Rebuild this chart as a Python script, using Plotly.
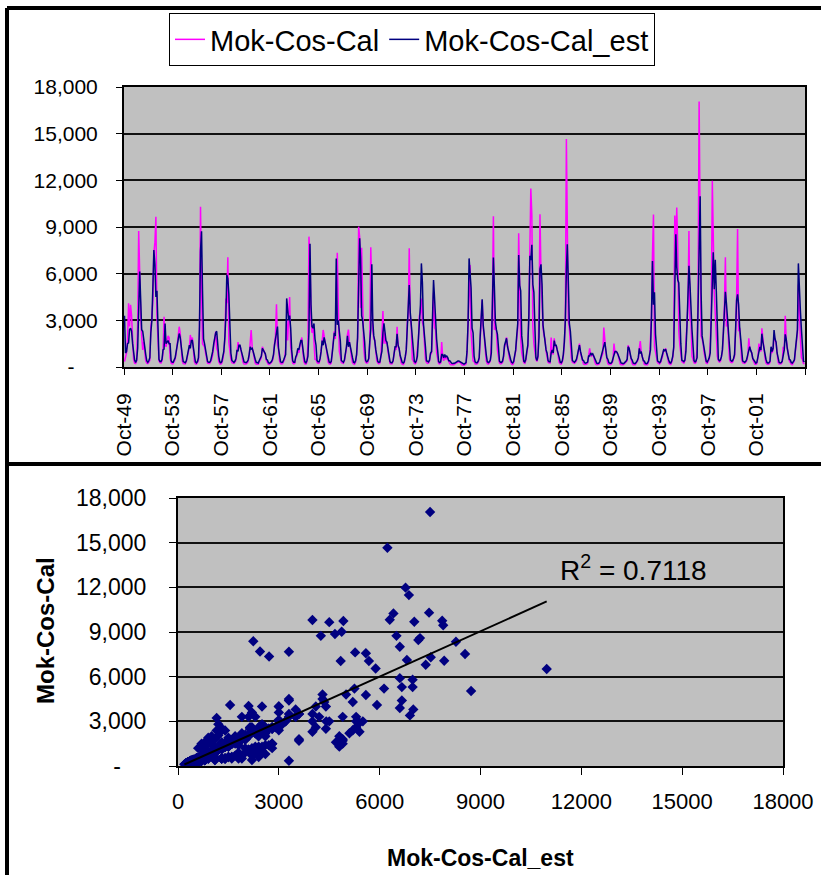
import numpy as np
import pandas as pd
import plotly.graph_objects as go

# Monthly flows by water year (Oct..Sep), WY1950 - WY2005
water_years = list(range(1950, 2006))

mok_cos_cal = [
    [350, 600, 900, 1800, 4100, 2600, 4000, 3300, 1700, 500, 250, 220],        # 1950
    [400, 2800, 8740, 5200, 3300, 2000, 1100, 1600, 900, 400, 250, 220],       # 1951
    [300, 450, 2600, 3100, 4300, 7300, 8010, 9660, 3300, 1100, 400, 280],      # 1952
    [250, 400, 900, 3230, 1500, 1300, 1700, 2000, 1900, 600, 250, 200],        # 1953
    [220, 400, 500, 900, 1400, 1800, 2590, 2200, 1200, 400, 220, 200],         # 1954
    [200, 350, 700, 1000, 1300, 2060, 1600, 1900, 1100, 350, 200, 180],        # 1955
    [280, 450, 2000, 10300, 5040, 1500, 1400, 1300, 900, 400, 250, 220],       # 1956
    [220, 350, 500, 800, 1300, 1800, 2270, 1200, 1000, 350, 200, 180],         # 1957
    [250, 500, 900, 1800, 4400, 4100, 7050, 1600, 1000, 500, 280, 250],        # 1958
    [230, 300, 450, 900, 1600, 1300, 1400, 1100, 600, 300, 200, 180],          # 1959
    [200, 250, 350, 700, 1600, 2380, 1300, 1000, 500, 250, 180, 170],          # 1960
    [180, 350, 500, 600, 1300, 1100, 1000, 800, 400, 220, 170, 160],           # 1961
    [200, 280, 400, 700, 1500, 2000, 4030, 1400, 1200, 400, 220, 190],         # 1962
    [220, 400, 500, 1200, 3000, 1700, 3600, 4500, 1300, 600, 250, 200],        # 1963
    [230, 600, 700, 1100, 900, 1300, 1700, 1900, 1000, 350, 200, 180],         # 1964
    [300, 1500, 8380, 7070, 3000, 2200, 2700, 1500, 500, 500, 280, 230],       # 1965
    [250, 500, 900, 1600, 2380, 1800, 1600, 1300, 700, 300, 200, 180],         # 1966
    [250, 900, 1500, 2300, 1800, 5800, 7350, 4000, 1000, 700, 300, 250],       # 1967
    [230, 400, 700, 1200, 2100, 2400, 1500, 1200, 600, 280, 200, 170],         # 1968
    [300, 800, 1800, 9020, 8350, 3800, 7670, 4000, 1300, 600, 300, 250],       # 1969
    [280, 500, 1500, 7690, 3900, 2400, 1800, 1700, 1000, 400, 250, 200],       # 1970
    [250, 700, 2000, 3600, 1500, 2200, 1500, 1600, 1000, 400, 220, 190],       # 1971
    [200, 350, 900, 1300, 1100, 2590, 1300, 1200, 700, 280, 180, 160],         # 1972
    [250, 600, 1000, 2800, 3500, 7630, 3300, 2600, 500, 400, 230, 200],        # 1973
    [300, 1200, 1800, 3300, 3500, 4400, 2900, 2600, 1200, 500, 280, 230],      # 1974
    [250, 400, 800, 900, 2800, 4770, 2500, 2400, 900, 400, 230, 200],          # 1975
    [250, 1600, 600, 400, 700, 500, 600, 500, 300, 200, 150, 140],             # 1976
    [130, 150, 200, 250, 300, 350, 350, 300, 200, 140, 120, 110],              # 1977
    [150, 200, 900, 2600, 5300, 6550, 2200, 1000, 400, 350, 200, 180],         # 1978
    [200, 300, 500, 1800, 2800, 4300, 2500, 2000, 1100, 400, 220, 190],        # 1979
    [250, 400, 1500, 3800, 9690, 2400, 2600, 2300, 1100, 500, 250, 200],       # 1980
    [220, 300, 600, 1300, 1500, 1900, 1200, 900, 500, 250, 180, 160],          # 1981
    [250, 700, 1000, 1800, 2500, 8590, 5200, 1800, 900, 500, 280, 230],        # 1982
    [400, 900, 1300, 3500, 8460, 11480, 9760, 2600, 1500, 800, 500, 350],      # 1983
    [600, 3300, 9820, 5900, 3300, 2500, 2000, 1800, 1000, 500, 300, 250],      # 1984
    [250, 1900, 1000, 800, 1850, 1300, 1400, 1100, 600, 280, 200, 180],        # 1985
    [300, 700, 1500, 3000, 14660, 9450, 3000, 2500, 1300, 600, 300, 250],      # 1986
    [230, 300, 400, 700, 1300, 1500, 900, 600, 350, 200, 160, 150],            # 1987
    [180, 250, 600, 1200, 800, 700, 800, 700, 350, 180, 150, 140],             # 1988
    [170, 300, 500, 700, 900, 2530, 1600, 1000, 500, 220, 160, 150],           # 1989
    [160, 250, 400, 1500, 900, 1000, 900, 800, 500, 200, 150, 140],            # 1990
    [140, 180, 250, 300, 400, 1400, 1200, 800, 500, 220, 150, 140],            # 1991
    [150, 250, 350, 500, 1200, 1670, 900, 600, 300, 170, 140, 130],            # 1992
    [150, 300, 600, 1800, 3300, 7120, 9810, 1300, 1000, 500, 280, 240],        # 1993
    [200, 300, 500, 700, 1100, 1000, 1200, 900, 500, 250, 180, 160],           # 1994
    [300, 600, 1200, 9740, 7520, 10250, 7570, 2300, 1400, 600, 350, 300],      # 1995
    [250, 400, 1500, 2500, 4000, 8740, 3000, 3000, 700, 500, 280, 240],        # 1996
    [300, 1200, 4800, 17060, 6510, 2000, 1800, 1500, 900, 400, 260, 230],      # 1997
    [350, 500, 1500, 3500, 11980, 6800, 4800, 3400, 1700, 700, 400, 320],      # 1998
    [350, 600, 1000, 2200, 4000, 7050, 2600, 3000, 1200, 500, 320, 280],       # 1999
    [300, 500, 700, 2300, 4500, 8870, 2300, 2500, 1200, 500, 280, 250],        # 2000
    [230, 300, 400, 700, 1850, 1200, 1000, 900, 500, 250, 180, 160],           # 2001
    [220, 600, 1500, 1200, 1000, 2490, 1500, 1200, 600, 260, 180, 160],        # 2002
    [200, 300, 1200, 900, 1100, 2050, 1700, 1600, 900, 300, 190, 170],         # 2003
    [200, 300, 1300, 1000, 3300, 1800, 1100, 800, 400, 220, 170, 150],         # 2004
    [250, 400, 1000, 1500, 2200, 5300, 3000, 1800, 600, 500, 230, 200],        # 2005
]

mok_cos_cal_est = [
    [3300, 900, 1000, 1500, 1550, 2400, 2500, 2300, 1500, 900, 450, 300],      # 1950
    [450, 1200, 4250, 6130, 4200, 2400, 2300, 1700, 1000, 800, 400, 300],      # 1951
    [400, 600, 2200, 3000, 5200, 7520, 6600, 4500, 4900, 2100, 500, 350],      # 1952
    [350, 500, 1100, 1150, 2800, 1500, 1600, 1700, 1500, 1500, 400, 300],      # 1953
    [300, 450, 600, 1000, 1400, 1800, 2150, 1900, 1200, 800, 350, 280],        # 1954
    [280, 400, 800, 1100, 1400, 1200, 1700, 1700, 1100, 700, 330, 270],        # 1955
    [350, 600, 2600, 7470, 8720, 4900, 1800, 1500, 1000, 800, 350, 300],       # 1956
    [300, 400, 650, 1000, 1500, 1900, 2200, 2300, 1100, 700, 330, 280],        # 1957
    [350, 600, 1000, 1900, 3300, 5920, 5680, 4700, 2300, 900, 420, 330],       # 1958
    [300, 380, 550, 1100, 1000, 1400, 1400, 1100, 700, 600, 320, 270],         # 1959
    [280, 330, 450, 800, 1300, 1150, 1200, 1000, 600, 500, 300, 260],          # 1960
    [260, 420, 550, 700, 1200, 1100, 1000, 850, 500, 450, 280, 250],           # 1961
    [280, 350, 500, 800, 1400, 1900, 2100, 2600, 1200, 800, 350, 290],         # 1962
    [300, 450, 600, 800, 4410, 3600, 3000, 3300, 2500, 1100, 400, 300],        # 1963
    [300, 650, 800, 1200, 1100, 1400, 1700, 1700, 1000, 700, 330, 270],        # 1964
    [400, 700, 2240, 7920, 4000, 2600, 2500, 2800, 1800, 1400, 420, 330],      # 1965
    [330, 550, 1000, 1700, 1400, 1900, 1600, 1300, 800, 600, 320, 270],        # 1966
    [350, 900, 1500, 2200, 2000, 6980, 2710, 3000, 2300, 1700, 420, 330],      # 1967
    [300, 450, 800, 1300, 2000, 1300, 1600, 1200, 700, 600, 310, 270],         # 1968
    [400, 800, 1900, 4870, 8270, 7000, 3300, 3000, 2400, 1600, 420, 340],      # 1969
    [380, 550, 1600, 2440, 6600, 3000, 2000, 1700, 1100, 800, 350, 300],       # 1970
    [330, 700, 1000, 2200, 2800, 2300, 1700, 1600, 1100, 800, 340, 280],       # 1971
    [280, 400, 1000, 1300, 1300, 2140, 1400, 1200, 750, 550, 300, 260],        # 1972
    [330, 650, 1100, 2500, 3600, 5270, 3500, 2600, 1900, 1100, 360, 300],      # 1973
    [400, 700, 1900, 3500, 4000, 6660, 5400, 2800, 2200, 1300, 400, 330],      # 1974
    [330, 450, 900, 1000, 3100, 5590, 4400, 2600, 1800, 1100, 340, 290],       # 1975
    [330, 800, 800, 600, 800, 650, 700, 600, 400, 400, 260, 230],              # 1976
    [220, 230, 260, 300, 350, 380, 380, 340, 270, 220, 200, 190],              # 1977
    [230, 280, 1000, 2800, 6980, 5880, 5100, 2500, 2200, 700, 330, 280],       # 1978
    [280, 380, 600, 2000, 3000, 4350, 2700, 2000, 1200, 800, 340, 290],        # 1979
    [330, 450, 900, 3500, 7030, 5200, 2900, 2400, 2100, 1300, 380, 310],       # 1980
    [300, 380, 700, 1400, 1600, 1850, 1300, 1000, 600, 500, 300, 260],         # 1981
    [350, 700, 1100, 2000, 2800, 7200, 5250, 4900, 2000, 1400, 380, 320],      # 1982
    [500, 1000, 1400, 3300, 7150, 6870, 7860, 5300, 4800, 2600, 600, 420],     # 1983
    [700, 1900, 6300, 6600, 5300, 2700, 2100, 1800, 1100, 900, 400, 330],      # 1984
    [330, 900, 1100, 900, 1700, 1400, 1400, 1100, 700, 600, 310, 270],         # 1985
    [400, 800, 1600, 3000, 6230, 7890, 5500, 2800, 2300, 1600, 420, 350],      # 1986
    [300, 380, 500, 800, 1300, 1400, 1000, 700, 450, 420, 270, 240],           # 1987
    [260, 320, 700, 700, 900, 800, 850, 700, 450, 400, 250, 230],              # 1988
    [250, 350, 600, 800, 1000, 1300, 1600, 1100, 600, 500, 270, 240],          # 1989
    [240, 320, 500, 800, 1000, 1000, 950, 800, 550, 450, 260, 230],            # 1990
    [220, 250, 300, 380, 500, 1300, 1200, 850, 550, 450, 260, 230],            # 1991
    [230, 300, 400, 600, 1200, 900, 950, 650, 400, 380, 240, 220],             # 1992
    [250, 380, 700, 1100, 3300, 6810, 4000, 4800, 2100, 1300, 400, 340],       # 1993
    [280, 350, 550, 800, 1100, 1050, 1150, 900, 550, 450, 280, 250],           # 1994
    [400, 700, 1300, 4920, 8540, 6410, 5590, 5400, 2700, 1500, 450, 380],      # 1995
    [350, 450, 1000, 2600, 4400, 6500, 5300, 3200, 2400, 1400, 400, 330],      # 1996
    [400, 600, 4300, 7500, 10970, 4800, 2000, 1600, 1000, 800, 380, 320],      # 1997
    [450, 600, 900, 3600, 6770, 7370, 5000, 6900, 4900, 2200, 500, 400],       # 1998
    [450, 650, 1100, 2300, 4100, 4840, 4100, 3200, 2800, 1600, 450, 380],      # 1999
    [400, 550, 800, 2400, 4300, 4670, 4000, 2600, 2000, 1300, 400, 340],       # 2000
    [300, 370, 500, 800, 1000, 1300, 1050, 900, 550, 450, 280, 250],           # 2001
    [300, 650, 800, 1300, 1100, 2140, 1600, 1200, 650, 500, 290, 250],         # 2002
    [280, 380, 1300, 1000, 1200, 2380, 1800, 1600, 900, 650, 300, 260],        # 2003
    [280, 380, 700, 1100, 2100, 1800, 1200, 900, 500, 450, 280, 250],          # 2004
    [330, 450, 1100, 1600, 2400, 6660, 4500, 3600, 2400, 1400, 380, 320],      # 2005
]

value_ticks = [0, 3000, 6000, 9000, 12000, 15000, 18000]
r_squared_label = "R<sup>2</sup> = 0.7118"

# ---- derived series -------------------------------------------------------
W, H = 821, 875
obs = np.array(mok_cos_cal, dtype=float).ravel()
est = np.array(mok_cos_cal_est, dtype=float).ravel()
start = pd.Timestamp(f"{water_years[0] - 1}-10-01")
months = pd.date_range(start, periods=len(obs), freq="MS") + pd.Timedelta(days=15)
end = pd.Timestamp(f"{water_years[-1]}-10-01")

# least-squares trend line of observed on estimated flows
slope, intercept = np.polyfit(est, obs, 1)
fit_x = np.array([est.min(), est.max()])
fit_y = slope * fit_x + intercept

FONT = "Liberation Sans, Arial, Helvetica, sans-serif"
NAVY = "#000080"
MAGENTA = "#FF00FF"


def px_x(p):
    return p / W


def px_y(p):
    return 1 - p / H


def y_labels():
    # accounting style: zero shown as a dash set in from the digits
    return [("-" + "\u00a0" * 4 + "\u200b") if v == 0 else f"{v:,}" for v in value_ticks]


fig = go.Figure()

fig.add_trace(go.Scatter(
    x=months, y=obs, mode="lines", name="Mok-Cos-Cal",
    line=dict(color=MAGENTA, width=1.5), xaxis="x", yaxis="y"))
fig.add_trace(go.Scatter(
    x=months, y=est, mode="lines", name="Mok-Cos-Cal_est",
    line=dict(color=NAVY, width=1.5), xaxis="x", yaxis="y"))

fig.add_trace(go.Scatter(
    x=est, y=obs, mode="markers", showlegend=False,
    marker=dict(symbol="diamond", size=8, color=NAVY, line=dict(width=0)),
    xaxis="x2", yaxis="y2"))
fig.add_trace(go.Scatter(
    x=fit_x, y=fit_y, mode="lines", showlegend=False,
    line=dict(color="black", width=2), xaxis="x2", yaxis="y2"))

tick_years = list(range(water_years[0] - 1, water_years[-1], 4))
date_ticks = [f"{y}-10-01" for y in tick_years]
date_text = [f"Oct-{y % 100:02d}" for y in tick_years]

axis_common = dict(
    showline=True, linecolor="black", linewidth=2, mirror=True,
    ticks="outside", tickcolor="black", tickwidth=1, zeroline=False,
    automargin=False,
)

fig.update_layout(
    width=W, height=H,
    margin=dict(l=0, r=0, t=0, b=0, pad=0, autoexpand=False),
    paper_bgcolor="white",
    plot_bgcolor="#C0C0C0",
    font=dict(family=FONT, color="black"),
    showlegend=True,
    legend=dict(
        orientation="h", x=px_x(169), y=px_y(13), xanchor="left", yanchor="top",
        bgcolor="white", bordercolor="black", borderwidth=1,
        font=dict(size=29, family=FONT), itemwidth=30,
    ),
    xaxis=dict(
        domain=[px_x(124), px_x(805)], type="date",
        range=[start, end], tickvals=date_ticks, ticktext=date_text,
        tickangle=-90, ticklen=6, showgrid=False,
        minor=dict(tickvals=[end], ticks="outside", ticklen=6, tickcolor="black"),
        tickfont=dict(size=21), ticklabelstandoff=10, anchor="y",
        **axis_common),
    yaxis=dict(
        domain=[px_y(367), px_y(87)], range=[0, 18000],
        tickvals=value_ticks, ticktext=y_labels(), ticklen=6,
        showgrid=True, gridcolor="#111111", gridwidth=1.5,
        tickfont=dict(size=21), ticklabelstandoff=14, anchor="x",
        **axis_common),
    xaxis2=dict(
        domain=[px_x(178), px_x(783)], range=[0, 18000],
        tickvals=value_ticks, ticktext=[str(v) for v in value_ticks],
        ticklen=7, showgrid=False,
        tickfont=dict(size=22), ticklabelstandoff=8, anchor="y2",
        **axis_common),
    yaxis2=dict(
        domain=[px_y(766), px_y(498)], range=[0, 18000],
        tickvals=value_ticks, ticktext=y_labels(), ticklen=7,
        showgrid=True, gridcolor="#111111", gridwidth=1.5,
        tickfont=dict(size=23), ticklabelstandoff=18, anchor="x2",
        **axis_common),
)

# panel frames
frame = dict(type="line", xref="paper", yref="paper", line=dict(color="black", width=4))
fig.add_shape(x0=px_x(7), x1=px_x(7), y0=px_y(8), y1=0, **frame)
fig.add_shape(x0=px_x(7), x1=1, y0=px_y(8), y1=px_y(8), **frame)
fig.add_shape(x0=px_x(7), x1=1, y0=px_y(464), y1=px_y(464), **frame)

fig.add_annotation(
    x=13540, y=13300, xref="x2", yref="y2", text=r_squared_label,
    xanchor="center", yanchor="middle",
    showarrow=False, font=dict(size=28, family=FONT))
fig.add_annotation(
    x=px_x(45), y=px_y(631), xref="paper", yref="paper",
    xanchor="center", yanchor="middle",
    text="<b>Mok-Cos-Cal</b>", textangle=-90, showarrow=False,
    font=dict(size=24, family=FONT))
fig.add_annotation(
    x=px_x(480), y=px_y(858), xref="paper", yref="paper",
    xanchor="center", yanchor="middle",
    text="<b>Mok-Cos-Cal_est</b>", showarrow=False,
    font=dict(size=23, family=FONT))

fig.write_html("out.html")
